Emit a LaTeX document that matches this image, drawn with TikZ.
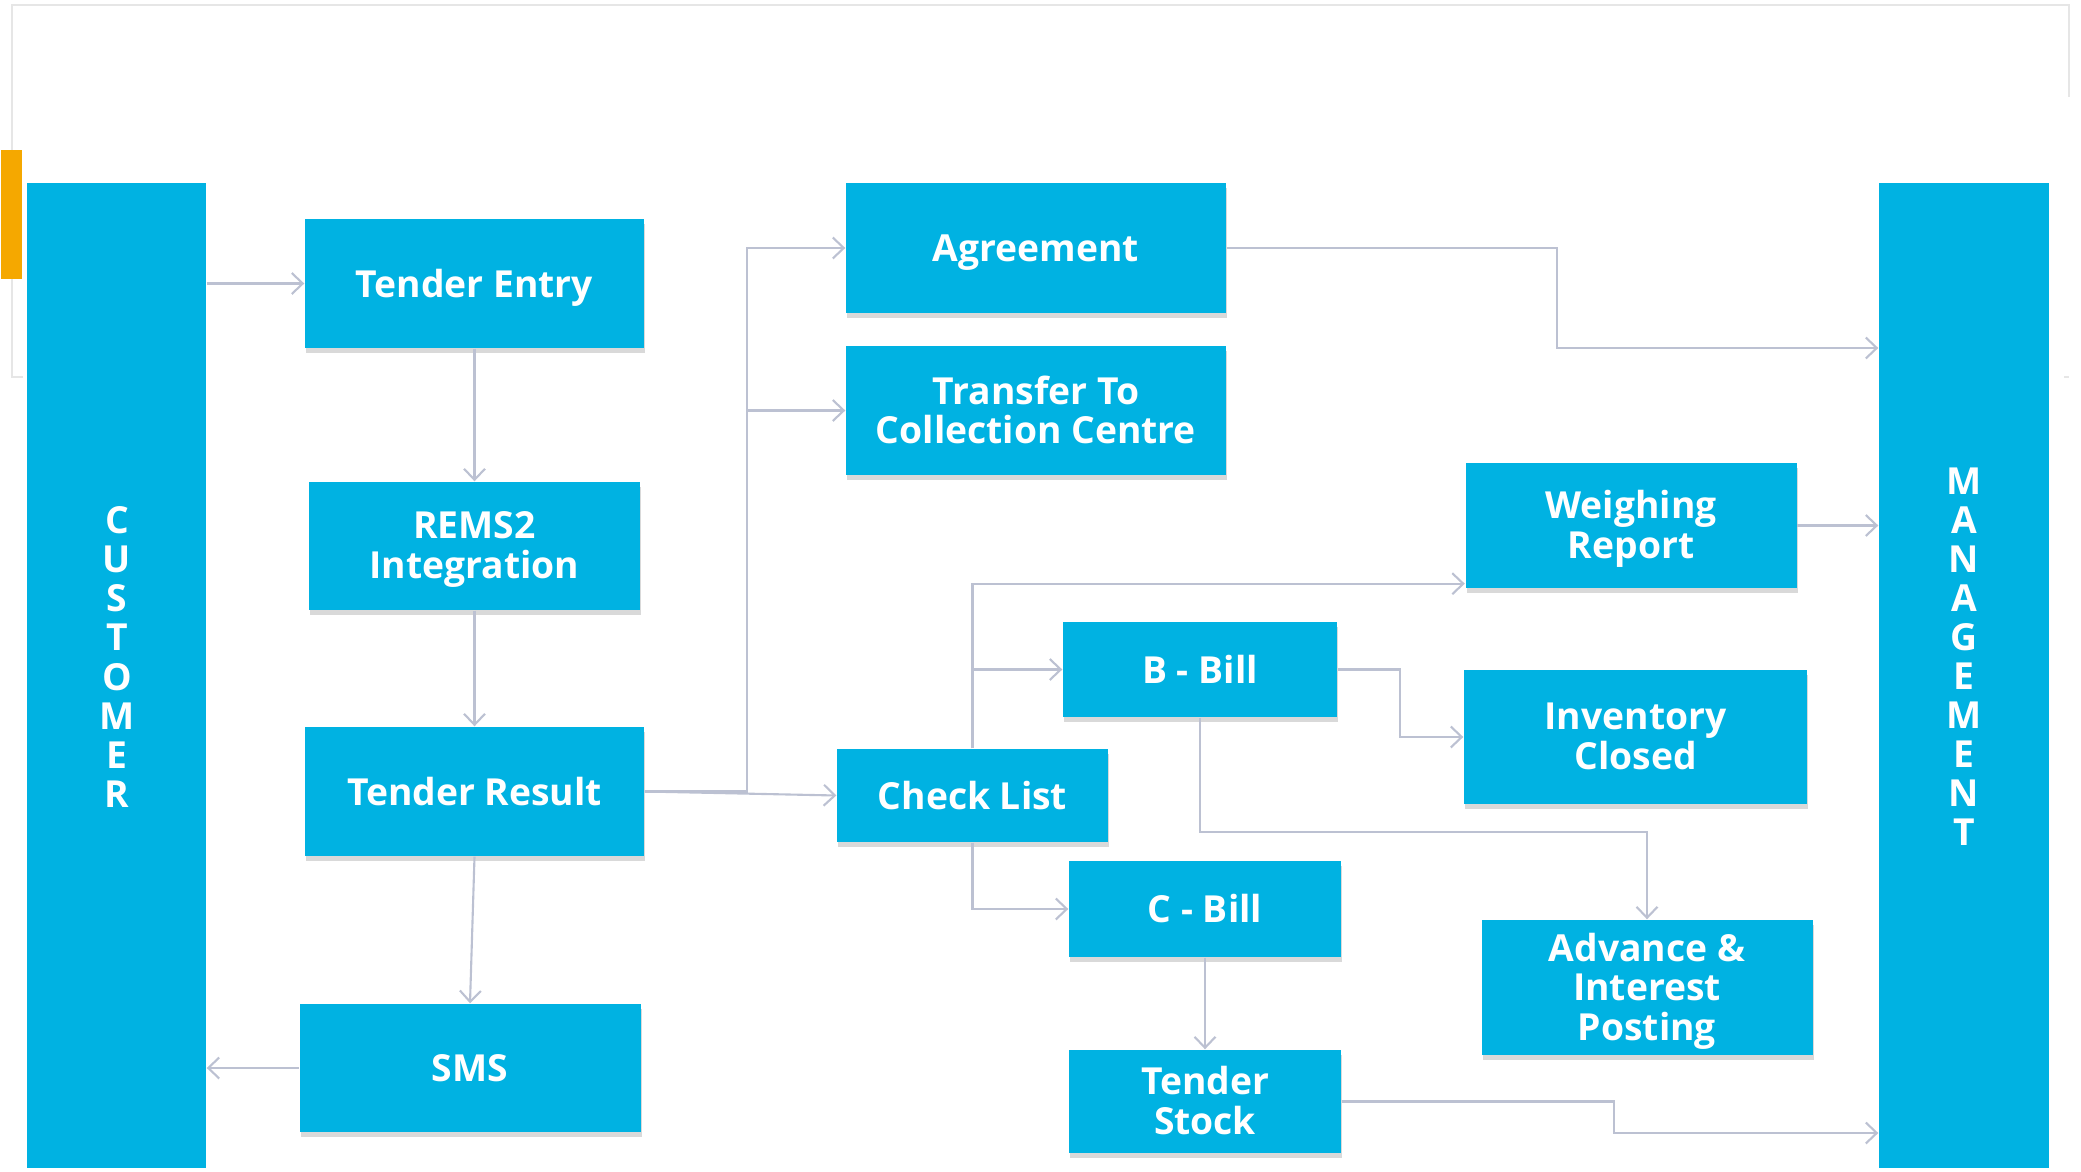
\documentclass[tikz,border=0pt]{standalone}
\usepackage{fontspec}
\setmainfont{Open Sans}
\usetikzlibrary{arrows.meta,shadows}

\definecolor{boxblue}{HTML}{00B2E2}
\definecolor{linkgray}{HTML}{BCC1D2}
\definecolor{framegray}{HTML}{E6E6E6}
\definecolor{tabyellow}{HTML}{F5A800}

\begin{document}
\begin{tikzpicture}[y=-1cm,
    box/.style={fill=boxblue, text=white, align=center, inner sep=0pt,
      font=\fontsize{10.6}{11.3}\selectfont\bfseries,
      text depth=0.5pt, execute at begin node={\rule{0pt}{8.4pt}},
      drop shadow={shadow xshift=0.01cm, shadow yshift=-0.045cm, opacity=0.3}},
    bar/.style={fill=boxblue, inner sep=0pt, minimum height=9.85cm},
    bartext/.style={text=white, align=center, inner sep=0pt,
      font=\fontsize{10.6}{11.1}\selectfont\bfseries},
    link/.style={draw=linkgray, line width=0.6pt,
      -{Straight Barb[length=1.1mm, width=2.1mm]}}]
  \useasboundingbox (0,0) rectangle (20.81,11.72);

  % slide frame and tab
  \draw[framegray, line width=0.8pt] (0.23,3.77) -- (0.12,3.77) -- (0.12,0.05)
    -- (20.69,0.05) -- (20.69,0.97);
  \draw[framegray, line width=0.8pt] (20.64,3.77) -- (20.69,3.77);
  \fill[tabyellow] (0.01,1.50) rectangle (0.22,2.79);

  % customer and management
  \node[bar, minimum width=1.79cm] (customer) at (1.165,6.755) {};
  \node[bartext] (customertext) at (1.17,6.57) {C\\U\\S\\T\\O\\M\\E\\R};
  \node[bar, minimum width=1.70cm] (management) at (19.64,6.755) {};
  \node[bartext] (managementtext) at (19.64,6.565)
    {M\\A\\N\\A\\G\\E\\M\\E\\N\\T};

  % tender column
  \node[box, minimum width=3.39cm, minimum height=1.29cm] (tentry) at (4.745,2.835) {Tender Entry};
  \node[box, minimum width=3.31cm, minimum height=1.28cm] (rems) at (4.745,5.46) {REMS2\\Integration};
  \node[box, minimum width=3.39cm, minimum height=1.29cm] (tresult) at (4.745,7.915) {Tender Result};
  \node[box, minimum width=3.41cm, minimum height=1.28cm] (sms) at (4.70,10.68) {SMS};

  % middle
  \node[box, minimum width=3.80cm, minimum height=1.30cm] (agree) at (10.36,2.48) {Agreement};
  \node[box, minimum width=3.80cm, minimum height=1.29cm] (transfer) at (10.36,4.105) {Transfer To\\Collection Centre};
  \node[box, minimum width=2.71cm, minimum height=0.93cm] (check) at (9.725,7.955) {Check List};
  \node[box, minimum width=2.74cm, minimum height=0.95cm] (bbill) at (12.00,6.695) {B - Bill};
  \node[box, minimum width=2.72cm, minimum height=0.96cm] (cbill) at (12.05,9.09) {C - Bill};
  \node[box, minimum width=2.72cm, minimum height=1.03cm] (tstock) at (12.05,11.015) {Tender\\Stock};

  % right
  \node[box, minimum width=3.31cm, minimum height=1.25cm] (weigh) at (16.31,5.255) {Weighing\\Report};
  \node[box, minimum width=3.43cm, minimum height=1.34cm] (invent) at (16.355,7.37) {Inventory\\Closed};
  \node[box, minimum width=3.31cm, minimum height=1.35cm] (advance) at (16.47,9.875) {Advance \&\\Interest\\Posting};

  % left column links
  \draw[link] (tentry -| customer.east) -- (tentry.west);
  \draw[link] (tentry) -- (rems);
  \draw[link] (rems) -- (tresult);
  \draw[link] (tresult.south) -- (sms.north);
  \draw[link] (sms.west) -- (sms -| customer.east);

  % out of the tender result
  \coordinate (fork) at (7.47,7.915);
  \draw[link] (tresult.east) -- (fork) |- (agree.west);
  \draw[link] (fork) |- (transfer.west);
  \draw[link] (tresult.east) -- (check.west);

  % check list and bills
  \draw[link] (check.north) |- ([yshift=0.05cm]weigh.south west);
  \draw[link] (check.north) |- (bbill.west);
  \draw[link] (check.south) |- (cbill.west);
  \coordinate (billturn) at (14.00,6.695);
  \draw[link] (bbill.east) -- (billturn) |- (invent.west);
  \coordinate (advturn) at (12.00,8.32);
  \draw[link] (bbill.south) -- (advturn) -| (advance.north);
  \draw[link] (cbill) -- (tstock);

  % into management
  \coordinate (agreeturn) at (15.57,3.48);
  \draw[link] (agree.east) -| (agreeturn) -- (agreeturn -| management.west);
  \draw[link] (weigh.east) -- (weigh.east -| management.west);
  \coordinate (stockturn) at (16.14,11.33);
  \draw[link] (tstock.east) -| (stockturn) -- (stockturn -| management.west);
\end{tikzpicture}
\end{document}
